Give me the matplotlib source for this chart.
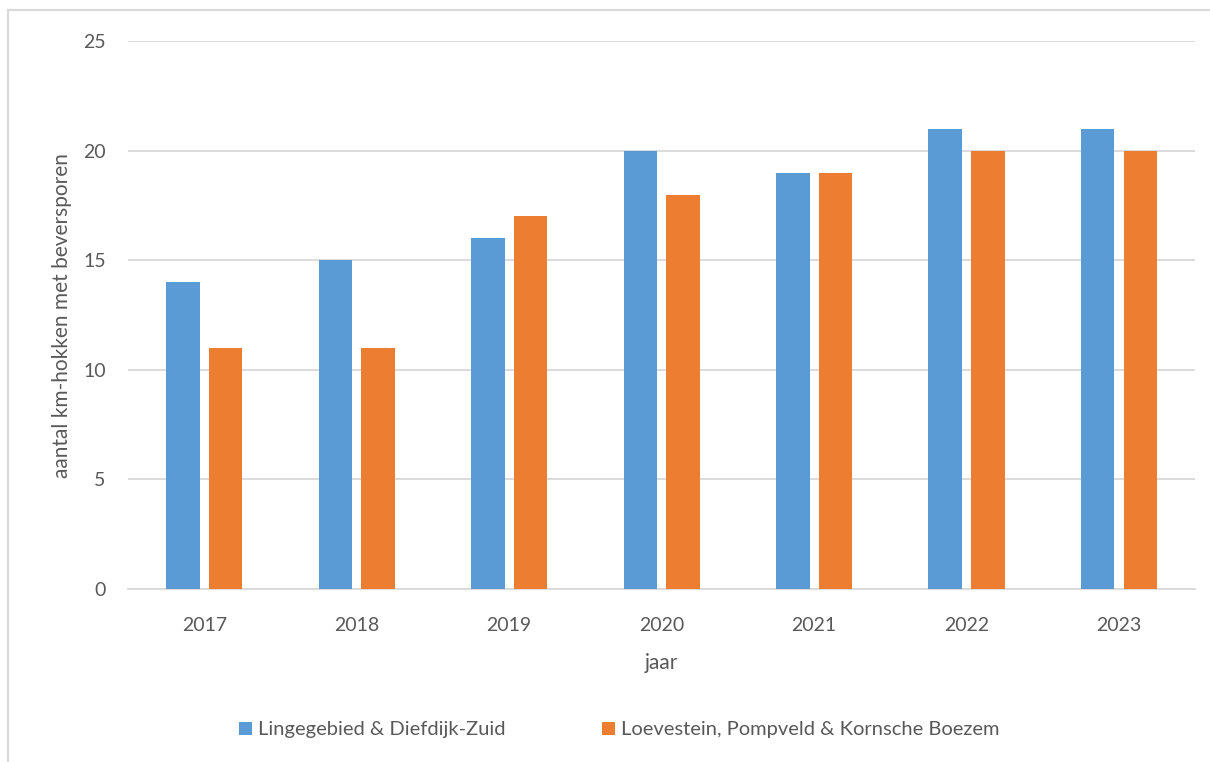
import matplotlib.pyplot as plt
import matplotlib.lines as mlines
import numpy as np

jaren = ['2017', '2018', '2019', '2020', '2021', '2022', '2023']
linge = [14, 15, 16, 20, 19, 21, 21]
loevestein = [11, 11, 17, 18, 19, 20, 20]
y_ticks = [0, 5, 10, 15, 20, 25]

blauw = '#5B9BD5'
oranje = '#ED7D31'
tekst = '#595959'

plt.rcParams['font.family'] = ['Lato', 'DejaVu Sans']

fig = plt.figure(figsize=(12.1, 7.62), dpi=100)
ax = fig.add_axes([0.1058, 0.227, 0.882, 0.719])

x = np.arange(len(jaren))
b = 0.22
ax.bar(x - 0.14, linge, b, color=blauw, label='Lingegebied & Diefdijk-Zuid', zorder=3)
ax.bar(x + 0.14, loevestein, b, color=oranje, label='Loevestein, Pompveld & Kornsche Boezem', zorder=3)

ax.set_xlim(-0.5, len(jaren) - 0.5)
ax.set_ylim(0, 25)
ax.set_yticks(y_ticks)
ax.set_xticks(x)
ax.set_xticklabels(jaren)
ax.yaxis.grid(True, color='#D9D9D9', linewidth=1.3, zorder=0)
for s in ['top', 'right', 'left']:
    ax.spines[s].set_visible(False)
ax.spines['bottom'].set_color('#D9D9D9')
ax.spines['bottom'].set_linewidth(1.3)
ax.tick_params(axis='both', length=0, labelsize=14, colors=tekst)
ax.tick_params(axis='x', pad=20)
ax.tick_params(axis='y', pad=16)

ax.set_xlabel('jaar', fontsize=15, color=tekst, labelpad=14)
ax.set_ylabel('aantal km-hokken met beversporen', fontsize=15, color=tekst, labelpad=8)

fig.legend(loc='center', bbox_to_anchor=(0.512, 0.042), ncol=2, frameon=False,
           fontsize=14.5, labelcolor=tekst, handlelength=0.65, handleheight=0.65,
           handletextpad=0.3, columnspacing=4.8)

# rand links en boven
fig.add_artist(mlines.Line2D([8 / 1210, 8 / 1210], [0, 1 - 10 / 762],
                             transform=fig.transFigure, color='#D9D9D9', linewidth=1.5))
fig.add_artist(mlines.Line2D([8 / 1210, 1], [1 - 10 / 762, 1 - 10 / 762],
                             transform=fig.transFigure, color='#D9D9D9', linewidth=1.5))

fig.savefig('out.png', dpi=100)
